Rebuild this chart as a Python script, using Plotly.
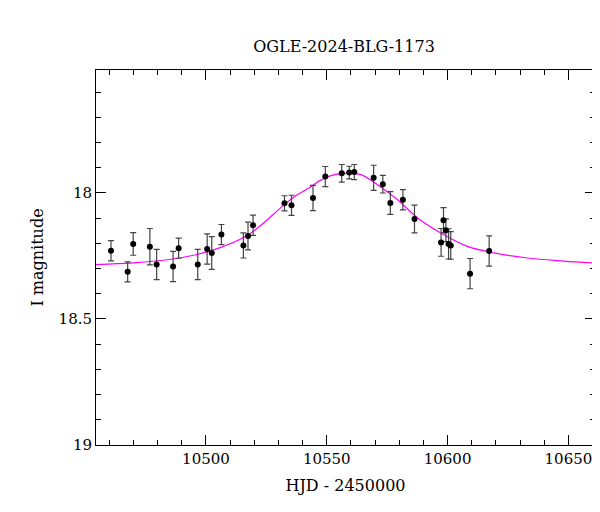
import plotly.graph_objects as go

# observations: HJD - 2450000, I magnitude, error
hjd = [10460.7, 10467.6, 10469.9, 10476.8, 10479.6, 10486.4, 10488.7, 10496.6,
       10500.5, 10502.4, 10506.4, 10515.5, 10517.4, 10519.5, 10532.5, 10535.4,
       10544.3, 10549.4, 10556.2, 10559.3, 10561.4, 10569.4, 10573.2, 10576.3,
       10581.5, 10586.3, 10597.3, 10598.3, 10599.3, 10600.4, 10601.3, 10609.3,
       10617.2]
mag = [18.229, 18.313, 18.202, 18.213, 18.284, 18.292, 18.219, 18.284,
       18.222, 18.238, 18.165, 18.208, 18.171, 18.128, 18.041, 18.049,
       18.020, 17.935, 17.922, 17.919, 17.917, 17.940, 17.965, 18.040,
       18.027, 18.103, 18.196, 18.108, 18.148, 18.202, 18.208, 18.320,
       18.230]
err = [0.04, 0.04, 0.045, 0.072, 0.06, 0.06, 0.04, 0.06,
       0.06, 0.065, 0.04, 0.05, 0.055, 0.04, 0.03, 0.04,
       0.05, 0.04, 0.035, 0.025, 0.03, 0.05, 0.035, 0.045,
       0.04, 0.055, 0.055, 0.05, 0.045, 0.06, 0.055, 0.06,
       0.06]

# model curve
model_t = [10454.5, 10470.0, 10485.0, 10495.8, 10505.0, 10516.5, 10524.0, 10531.6,
           10537.0, 10542.6, 10547.0, 10550.9, 10555.0, 10559.2, 10564.1, 10571.0,
           10579.3, 10587.6, 10597.2, 10608.2, 10619.3, 10633.0, 10648.0, 10661.0]
model_mag = [18.284, 18.277, 18.264, 18.245, 18.220, 18.172, 18.118, 18.053,
             18.012, 17.980, 17.952, 17.934, 17.924, 17.921, 17.927, 17.967,
             18.027, 18.099, 18.159, 18.212, 18.238, 18.258, 18.270, 18.278]

x_ticks = [10500, 10550, 10600, 10650]
y_ticks = [18, 18.5, 19]

serif = "DejaVu Serif, Liberation Serif, serif"

fig = go.Figure()
fig.add_trace(go.Scatter(
    x=model_t, y=model_mag, mode="lines", line=dict(color="#ff00ff", width=1.2, shape="spline"),
    showlegend=False, hoverinfo="skip",
))
fig.add_trace(go.Scatter(
    x=hjd, y=mag, mode="markers",
    marker=dict(color="black", size=6),
    error_y=dict(type="data", array=err, color="#444", thickness=1.2, width=3),
    showlegend=False,
))

axis_common = dict(
    showline=True, linecolor="black", linewidth=1, mirror="ticks",
    ticks="inside", ticklen=10, tickcolor="black", showgrid=False, zeroline=False,
    automargin=False,
    tickfont=dict(family=serif, size=15, color="black"),
)
fig.update_xaxes(
    range=[10454.5, 10661], tickvals=x_ticks, ticktext=[str(v) for v in x_ticks],
    minor=dict(dtick=10, ticks="inside", ticklen=5, tickcolor="black"),
    title=dict(text="HJD - 2450000", font=dict(family=serif, size=16, color="black"), standoff=12),
    **axis_common,
)
fig.update_yaxes(
    range=[19, 17.512], tickvals=y_ticks, ticktext=[str(v) for v in y_ticks],
    minor=dict(dtick=0.1, ticks="inside", ticklen=5, tickcolor="black"),
    title=dict(text="I magnitude", font=dict(family=serif, size=16, color="black"), standoff=10),
    **axis_common,
)
fig.update_layout(
    width=600, height=512,
    margin=dict(l=88, r=13, t=62, b=75),
    plot_bgcolor="white", paper_bgcolor="white",
    title=dict(text="OGLE-2024-BLG-1173", x=0.56, xanchor="center", y=0.935,
               font=dict(family=serif, size=16, color="black")),
)

fig.write_html("out.html")
